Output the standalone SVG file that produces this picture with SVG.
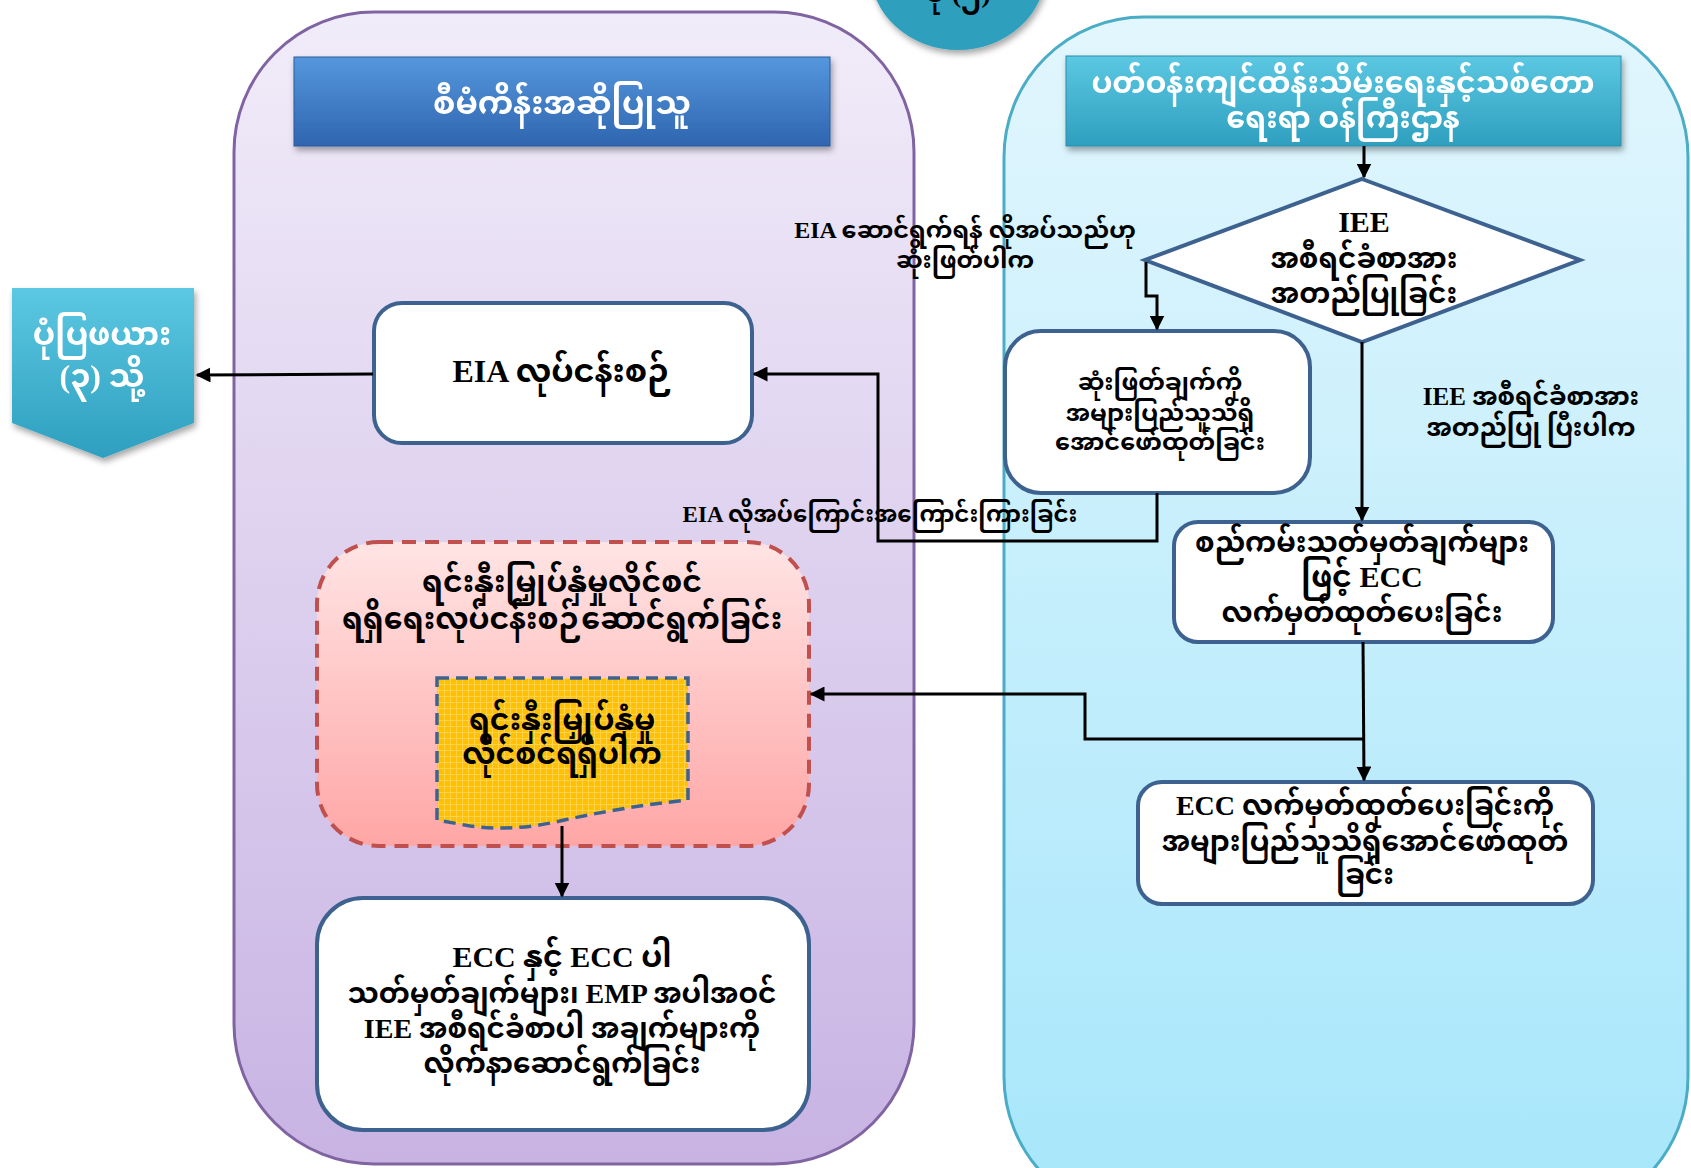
<svg xmlns="http://www.w3.org/2000/svg" width="1691" height="1168" viewBox="0 0 1691 1168">
<defs>
<linearGradient id="gPurple" x1="0" y1="0" x2="0" y2="1"><stop offset="0" stop-color="#f1ecf9"/><stop offset="1" stop-color="#c8b3e3"/></linearGradient>
<linearGradient id="gCyan" x1="0" y1="0" x2="0" y2="1"><stop offset="0" stop-color="#e2f6fd"/><stop offset="1" stop-color="#a6e6fb"/></linearGradient>
<linearGradient id="gRed" x1="0" y1="0" x2="0" y2="1"><stop offset="0" stop-color="#ffe4e4"/><stop offset="1" stop-color="#ffa6a6"/></linearGradient>
<linearGradient id="gBlue" x1="0" y1="0" x2="0" y2="1"><stop offset="0" stop-color="#5597dc"/><stop offset="1" stop-color="#2f65b0"/></linearGradient>
<linearGradient id="gTeal" x1="0" y1="0" x2="0" y2="1"><stop offset="0" stop-color="#5cc8e2"/><stop offset="1" stop-color="#2e9fbf"/></linearGradient>
<pattern id="grid" width="6" height="6" patternUnits="userSpaceOnUse"><rect width="6" height="6" fill="#ffc000"/><path d="M0 0.5H6M0.5 0V6" stroke="#ffd24d" stroke-width="1"/></pattern>
<marker id="arr" viewBox="0 0 10 10" refX="9" refY="5" markerWidth="5" markerHeight="5" orient="auto-start-reverse"><path d="M0 0L10 5L0 10z" fill="#000"/></marker>
<filter id="sh" x="-10%" y="-10%" width="120%" height="130%"><feDropShadow dx="2" dy="4" stdDeviation="3" flood-color="#000" flood-opacity="0.35"/></filter>
</defs>
<style>
.t{font-family:"Liberation Serif","Noto Sans Myanmar","Noto Serif Myanmar","Padauk","Myanmar Text",serif;font-weight:bold;fill:#000;text-anchor:middle}
.w{fill:#fff}
.box{fill:#fff;stroke:#3e6290;stroke-width:4}
.con{fill:none;stroke:#000;stroke-width:3}
</style>

<g id="panel-left"><rect x="234" y="12" width="680" height="1152" rx="140" fill="url(#gPurple)" stroke="#8064a2" stroke-width="3"/></g>
<g id="panel-right"><rect x="1004" y="17" width="684" height="1200" rx="140" fill="url(#gCyan)" stroke="#4bacc6" stroke-width="3"/></g>

<g id="top-circle"><ellipse cx="958" cy="-30" rx="88" ry="80" fill="#2f9fbd" filter="url(#sh)"/><text class="t" x="958" y="2" font-size="28">ပုံ (၂)</text></g>

<g id="header-left" filter="url(#sh)"><rect x="294" y="57" width="536" height="89" fill="url(#gBlue)" stroke="#2b5a9c" stroke-width="1"/><text class="t w" x="562" y="114" font-size="32">စီမံကိန်းအဆိုပြုသူ</text></g>

<g id="header-right" filter="url(#sh)"><rect x="1066" y="56" width="555" height="90" fill="url(#gTeal)" stroke="#2a8ea9" stroke-width="1"/><text class="t w" x="1343" y="93" font-size="30">ပတ်ဝန်းကျင်ထိန်းသိမ်းရေးနှင့်သစ်တော</text><text class="t w" x="1343" y="128" font-size="30">ရေးရာ ဝန်ကြီးဌာန</text></g>

<g id="goto-fig3" filter="url(#sh)"><path d="M12 288H194V423L103 458L12 423Z" fill="url(#gTeal)"/><text class="t w" x="102" y="345" font-size="32">ပုံပြဖယား</text><text class="t w" x="102" y="387" font-size="32">(၃) သို့</text></g>

<g id="eia-process"><rect x="374" y="303" width="378" height="140" rx="28" class="box"/><text class="t" x="562" y="382" font-size="32">EIA လုပ်ငန်းစဉ်</text></g>

<g id="iee-decision"><path d="M1362 179L1580 260L1362 342L1145 260Z" class="box"/><text class="t" x="1364" y="232" font-size="30">IEE</text><text class="t" x="1364" y="268" font-size="28">အစီရင်ခံစာအား</text><text class="t" x="1364" y="303" font-size="28">အတည်ပြုခြင်း</text></g>

<g id="publish-decision"><rect x="1005" y="331" width="305" height="162" rx="36" class="box"/><text class="t" x="1160" y="390" font-size="24">ဆုံးဖြတ်ချက်ကို</text><text class="t" x="1160" y="421" font-size="24">အများပြည်သူသိရှိ</text><text class="t" x="1160" y="450" font-size="24">အောင်ဖော်ထုတ်ခြင်း</text></g>

<g id="issue-ecc"><rect x="1174" y="522" width="379" height="120" rx="24" class="box"/><text class="t" x="1362" y="552" font-size="28">စည်ကမ်းသတ်မှတ်ချက်များ</text><text class="t" x="1362" y="587" font-size="30">ဖြင့် ECC</text><text class="t" x="1362" y="622" font-size="28">လက်မှတ်ထုတ်ပေးခြင်း</text></g>

<g id="publish-ecc"><rect x="1138" y="782" width="455" height="122" rx="24" class="box"/><text class="t" x="1365" y="815" font-size="28">ECC လက်မှတ်ထုတ်ပေးခြင်းကို</text><text class="t" x="1365" y="851" font-size="28">အများပြည်သူသိရှိအောင်ဖော်ထုတ်</text><text class="t" x="1365" y="884" font-size="28">ခြင်း</text></g>

<g id="investment-permit"><rect x="317" y="542" width="492" height="304" rx="62" fill="url(#gRed)" stroke="#c0504d" stroke-width="4" stroke-dasharray="14 9"/><text class="t" x="562" y="592" font-size="30">ရင်းနှီးမြှုပ်နှံမှုလိုင်စင်</text><text class="t" x="562" y="629" font-size="30">ရရှိရေးလုပ်ငန်းစဉ်ဆောင်ရွက်ခြင်း</text></g>

<g id="permit-obtained"><path d="M437 678H688V800C640 805 600 812 560 821C530 828 500 830 470 826L437 820Z" fill="url(#grid)" stroke="#3e6290" stroke-width="3.5" stroke-dasharray="12 7"/><text class="t" x="562" y="730" font-size="30">ရင်းနှီးမြှုပ်နှံမှု</text><text class="t" x="562" y="764" font-size="30">လိုင်စင်ရရှိပါက</text></g>

<g id="comply"><rect x="317" y="898" width="492" height="232" rx="46" class="box"/><text class="t" x="562" y="967" font-size="30">ECC နှင့် ECC ပါ</text><text class="t" x="562" y="1003" font-size="28">သတ်မှတ်ချက်များ၊ EMP အပါအဝင်</text><text class="t" x="562" y="1038" font-size="28">IEE အစီရင်ခံစာပါ အချက်များကို</text><text class="t" x="562" y="1073" font-size="28">လိုက်နာဆောင်ရွက်ခြင်း</text></g>

<g id="connectors">
<path class="con" d="M1364 146V177" marker-end="url(#arr)"/>
<path class="con" d="M1146 262V296H1157V329" marker-end="url(#arr)"/>
<path class="con" d="M1157 493V541H878V374H754" marker-end="url(#arr)"/>
<path class="con" d="M373 374L197 375" marker-end="url(#arr)"/>
<path class="con" d="M1362 342V520" marker-end="url(#arr)"/>
<path class="con" d="M1363 642L1364 780" marker-end="url(#arr)"/>
<path class="con" d="M1363 739H1085V694H811" marker-end="url(#arr)"/>
<path class="con" d="M562 826V896" marker-end="url(#arr)"/>
</g>

<g id="labels">
<text class="t" x="965" y="238" font-size="24">EIA ဆောင်ရွက်ရန် လိုအပ်သည်ဟု</text>
<text class="t" x="965" y="268" font-size="24">ဆုံးဖြတ်ပါက</text>
<text class="t" x="880" y="522" font-size="23">EIA  လိုအပ်ကြောင်းအကြောင်းကြားခြင်း</text>
<text class="t" x="1531" y="405" font-size="25">IEE အစီရင်ခံစာအား</text>
<text class="t" x="1531" y="436" font-size="25">အတည်ပြု ပြီးပါက</text>
</g>
</svg>
